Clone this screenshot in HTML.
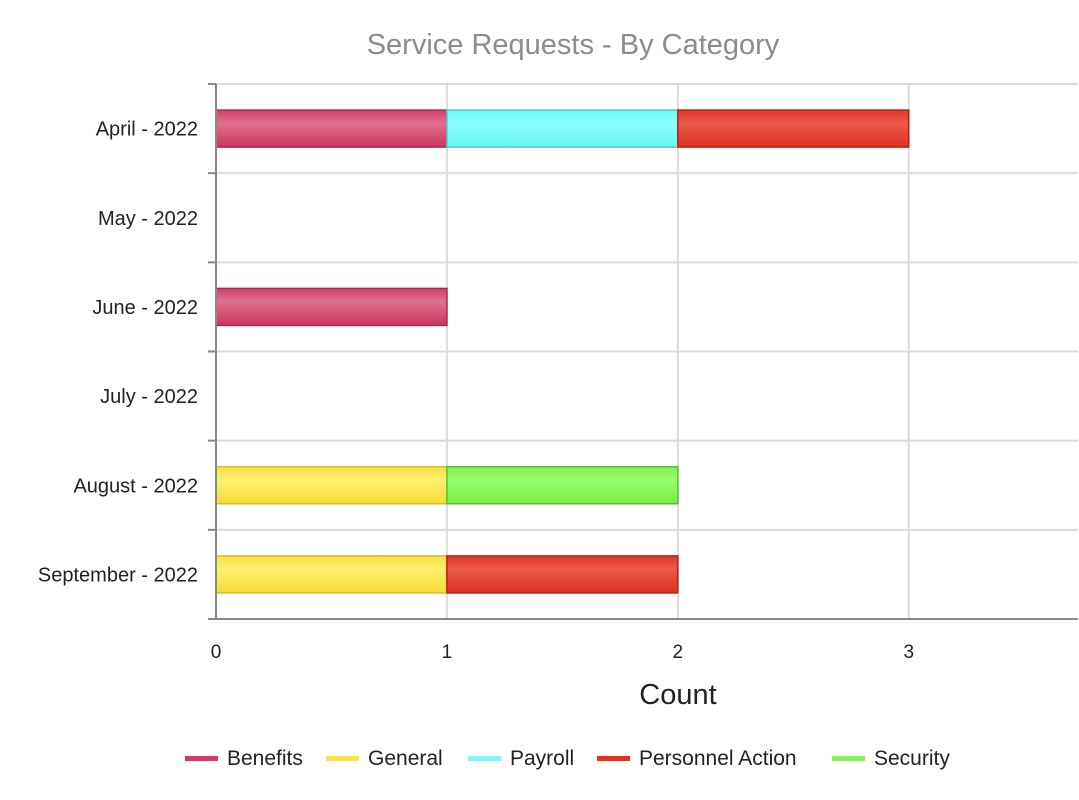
<!DOCTYPE html>
<html><head><meta charset="utf-8"><style>
body{margin:0;background:#fff;}
svg{display:block;font-family:"Liberation Sans",Arial,sans-serif;}
</style></head><body>
<svg id="c" width="1079" height="800">
<defs>
<linearGradient id="gB" x1="0" y1="0" x2="0" y2="1"><stop offset="0" stop-color="#d0406e"/><stop offset="0.35" stop-color="#e0708f"/><stop offset="1" stop-color="#cc3560"/></linearGradient>
<linearGradient id="gG" x1="0" y1="0" x2="0" y2="1"><stop offset="0" stop-color="#f8e040"/><stop offset="0.35" stop-color="#fff070"/><stop offset="1" stop-color="#f8dc38"/></linearGradient>
<linearGradient id="gP" x1="0" y1="0" x2="0" y2="1"><stop offset="0" stop-color="#70f8f8"/><stop offset="0.35" stop-color="#88ffff"/><stop offset="1" stop-color="#6cf4f4"/></linearGradient>
<linearGradient id="gA" x1="0" y1="0" x2="0" y2="1"><stop offset="0" stop-color="#e03828"/><stop offset="0.35" stop-color="#ec5a4c"/><stop offset="1" stop-color="#dc3222"/></linearGradient>
<linearGradient id="gS" x1="0" y1="0" x2="0" y2="1"><stop offset="0" stop-color="#80f050"/><stop offset="0.35" stop-color="#98ff6c"/><stop offset="1" stop-color="#7aec48"/></linearGradient>
</defs>
<text x="573" y="54" text-anchor="middle" font-size="29" fill="#8c8c8c">Service Requests - By Category</text>
<g id="grid"></g><g id="bars"></g><g id="axes"></g>
<text x="678" y="704" text-anchor="middle" font-size="29" fill="#222">Count</text>
<g id="legend"></g>
</svg>
<script>
const categories=["April - 2022","May - 2022","June - 2022","July - 2022","August - 2022","September - 2022"];
const seriesNames=["Benefits","General","Payroll","Personnel Action","Security"];
const benefits=[1,0,1,0,0,0];
const general=[0,0,0,0,1,1];
const payroll=[1,0,0,0,0,0];
const personnel=[1,0,0,0,0,1];
const security=[0,0,0,0,1,0];
const xTicks=[0,1,2,3];
const fills=["url(#gB)","url(#gG)","url(#gP)","url(#gA)","url(#gS)"];
const strokes=["#b02850","#d8c020","#50c8c8","#b82010","#58c030"];
const legendCol=["#d6386a","#fbe54a","#7ef8f8","#e4321e","#86f054"];
const series=[benefits,general,payroll,personnel,security];
const NS="http://www.w3.org/2000/svg";
const x0=216,x1=1078,xmax=3.733,yTop=84,yBot=619;
const band=(yBot-yTop)/categories.length;
const X=v=>x0+v/xmax*(x1-x0);
const Y=i=>yTop+band*(i+0.5);
function el(t,a,p){const e=document.createElementNS(NS,t);for(const k in a)e.setAttribute(k,a[k]);document.getElementById(p).appendChild(e);return e;}
xTicks.forEach(t=>{const l=el('line',{x1:X(t),x2:X(t),y1:yTop,y2:yBot,stroke:'#dcdcdc','stroke-width':2},'grid');

const tx=el('text',{x:X(t),y:658,'text-anchor':'middle','font-size':19,fill:'#222'},'axes');tx.textContent=t;
});
for(let i=0;i<=categories.length;i++){const y=yTop+band*i;
const l=el('line',{x1:x0,x2:x1,y1:y,y2:y,stroke:'#dcdcdc','stroke-width':2},'grid');

const tk=el('line',{x1:208,x2:x0,y1:y,y2:y,stroke:'#888','stroke-width':2},'axes');
}
categories.forEach((c,i)=>{const t=el('text',{x:198,y:Y(i)+7,'text-anchor':'end','font-size':20,fill:'#222'},'axes');t.textContent=c;

let acc=0;series.forEach((s,k)=>{if(s[i]>0){const r=el('rect',{x:X(acc),y:Y(i)-18.5,width:X(acc+s[i])-X(acc),height:37,fill:fills[k],stroke:strokes[k],'stroke-width':1.5},'bars');
acc+=s[i];}});});
let a=el('line',{x1:x0,x2:x0,y1:yTop,y2:yBot,stroke:'#888','stroke-width':2},'axes');

a=el('line',{x1:x0,x2:x1,y1:yBot,y2:yBot,stroke:'#888','stroke-width':2},'axes');

const lx=[185,326,468,597,832];
seriesNames.forEach((n,k)=>{const g=el('g',{},'legend');

const r=document.createElementNS(NS,'rect');r.setAttribute('x',lx[k]);r.setAttribute('y',756);r.setAttribute('width',33);r.setAttribute('height',5);r.setAttribute('fill',legendCol[k]);g.appendChild(r);
const t=document.createElementNS(NS,'text');t.setAttribute('x',lx[k]+42);t.setAttribute('y',765);t.setAttribute('font-size',21);t.setAttribute('fill','#222');t.textContent=n;g.appendChild(t);});
</script>
</body></html>
